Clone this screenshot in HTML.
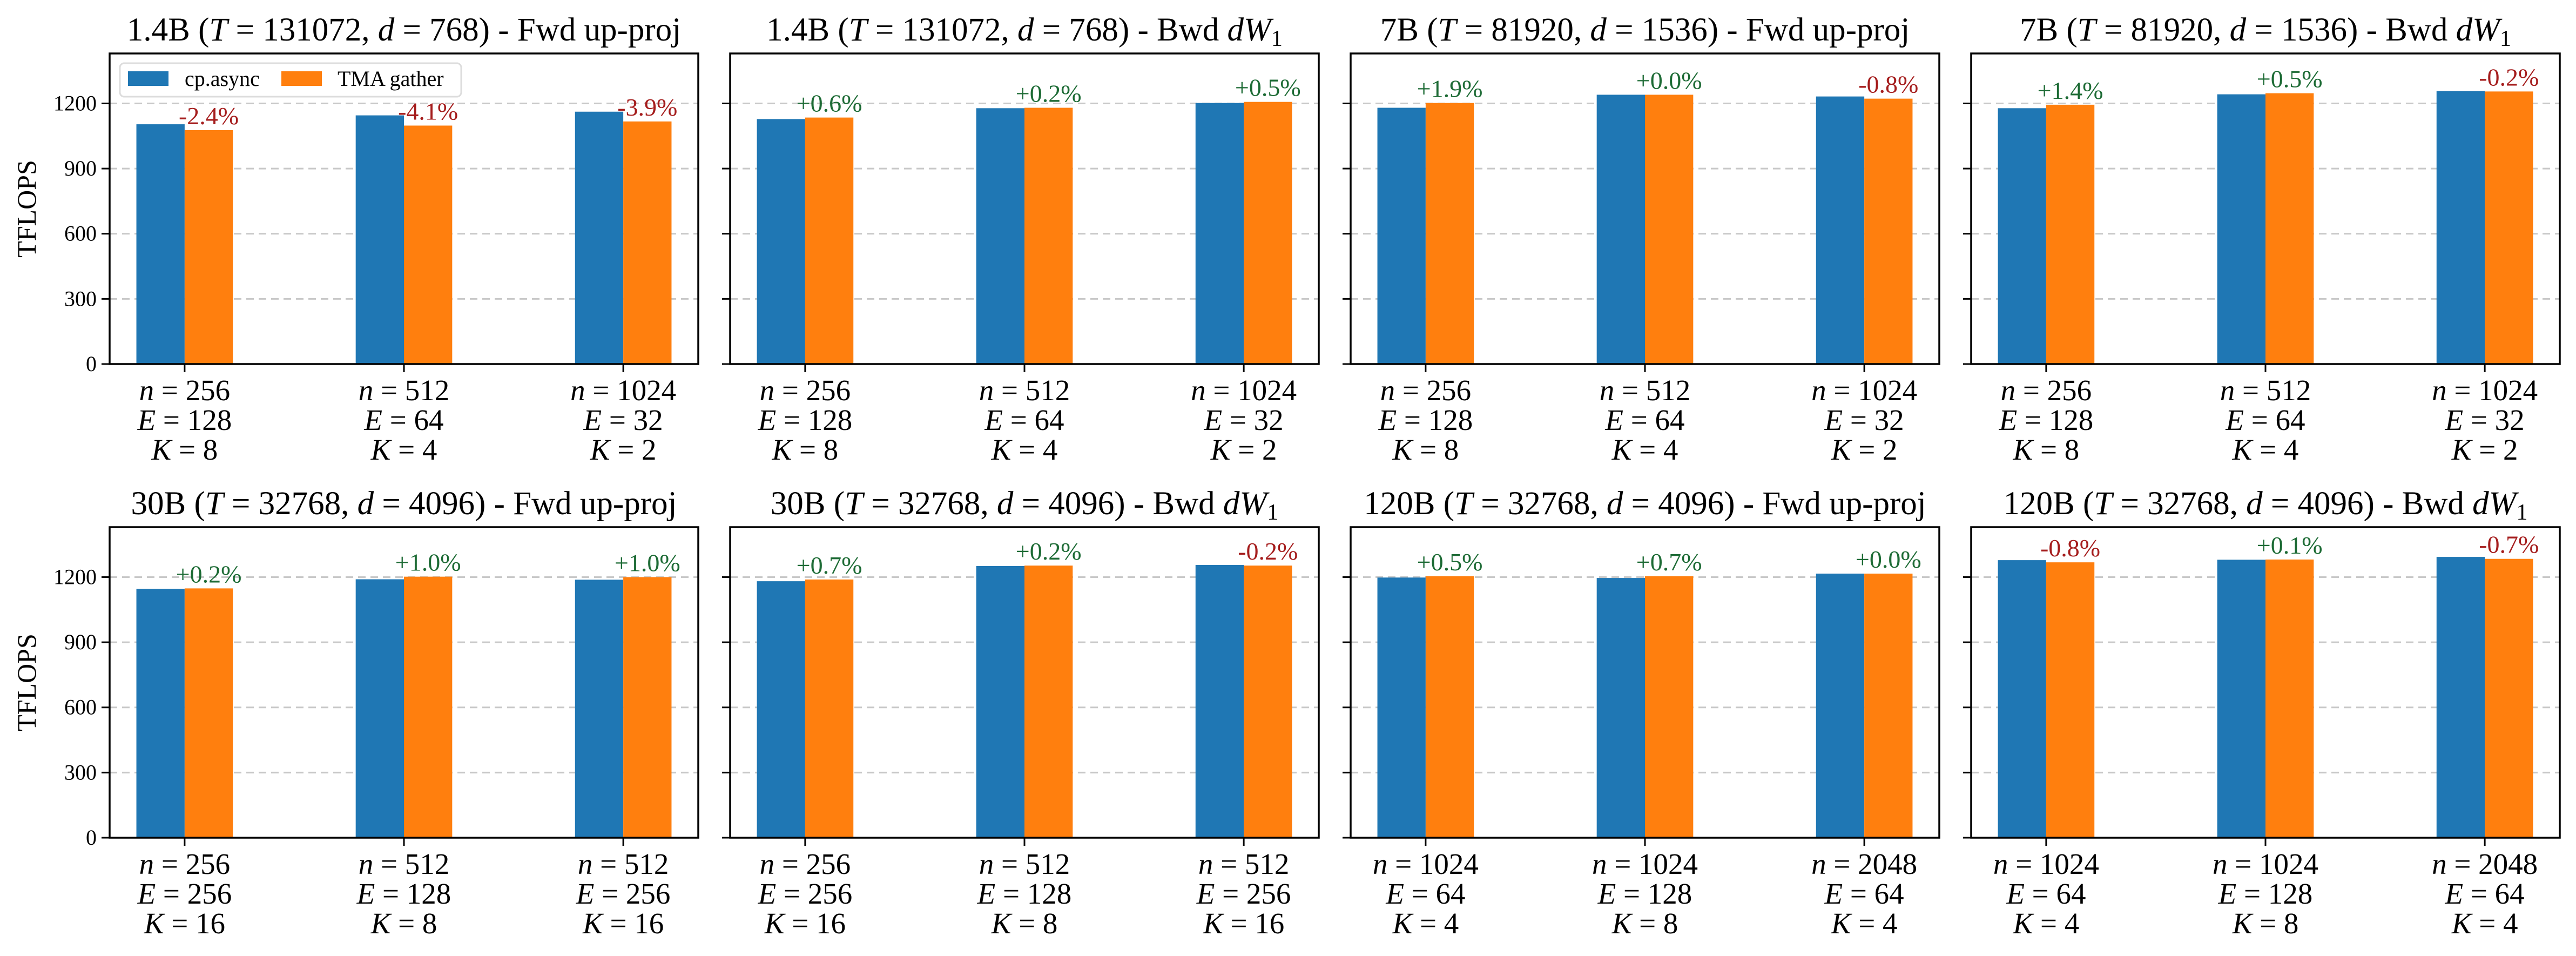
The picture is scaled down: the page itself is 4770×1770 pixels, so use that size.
<!DOCTYPE html>
<html><head><meta charset="utf-8">
<style>
html,body{margin:0;padding:0;background:#fff;}
svg{display:block;}
text{font-family:"Liberation Serif","DejaVu Serif",serif;}
</style></head>
<body>
<svg id="chart" xmlns="http://www.w3.org/2000/svg" width="4770" height="1770" viewBox="0 0 4770 1770"></svg>
<script>
// ---- data ----
const panelModels = ["1.4B","1.4B","7B","7B","30B","30B","120B","120B"];
const panelT = ["131072","131072","81920","81920","32768","32768","32768","32768"];
const panelD = ["768","768","1536","1536","4096","4096","4096","4096"];
const panelKind = ["fwd","bwd","fwd","bwd","fwd","bwd","fwd","bwd"];
const catN = [["256","512","1024"],["256","512","1024"],["256","512","1024"],["256","512","1024"],
              ["256","512","512"],["256","512","512"],["1024","1024","2048"],["1024","1024","2048"]];
const catE = [["128","64","32"],["128","64","32"],["128","64","32"],["128","64","32"],
              ["256","128","256"],["256","128","256"],["64","128","64"],["64","128","64"]];
const catK = [["8","4","2"],["8","4","2"],["8","4","2"],["8","4","2"],
              ["16","8","16"],["16","8","16"],["4","8","4"],["4","8","4"]];
const cpAsync = [[1104,1145,1162],[1128,1178,1202],[1180,1240,1232],[1178,1242,1257],
                 [1146,1190,1188],[1181,1251,1256],[1198,1196,1216],[1278,1280,1293]];
const tmaGather = [[1077,1098,1117],[1135,1180,1207],[1202,1240,1222],[1194,1247,1255],
                   [1148,1202,1200],[1189,1253,1253],[1204,1204,1216],[1268,1281,1284]];
const pctLabels = [["-2.4%","-4.1%","-3.9%"],["+0.6%","+0.2%","+0.5%"],["+1.9%","+0.0%","-0.8%"],["+1.4%","+0.5%","-0.2%"],
                   ["+0.2%","+1.0%","+1.0%"],["+0.7%","+0.2%","-0.2%"],["+0.5%","+0.7%","+0.0%"],["-0.8%","+0.1%","-0.7%"]];
const yTicks = [0,300,600,900,1200];
const legendLabels = ["cp.async","TMA gather"];

// ---- layout ----
const NS="http://www.w3.org/2000/svg";
const svg=document.getElementById('chart');
const AX_W=1090, COL_PITCH=1149, AX_LEFT0=203, AX_TOP0=99, AX_H=575, ROW_PITCH=877;
const Y_MAX=1430, X_MIN=-0.342, X_MAX=2.342, BAR_W=0.22;
const BLUE="#1f77b4", ORANGE="#ff7f0e", GREEN="#1d6b35", RED="#a51d1d";

function mk(tag,attrs,parent){const e=document.createElementNS(NS,tag);for(const k in attrs)e.setAttribute(k,attrs[k]);(parent||svg).appendChild(e);return e;}
function tsp(parent,txt,italic){const s=document.createElementNS(NS,'tspan');s.textContent=txt;if(italic)s.setAttribute('font-style','italic');parent.appendChild(s);return s;}

for(let p=0;p<8;p++){
  const row=Math.floor(p/4), col=p%4;
  const L=AX_LEFT0+col*COL_PITCH, T=AX_TOP0+row*ROW_PITCH, B=T+AX_H;
  const xs=v=>L+(v-X_MIN)/(X_MAX-X_MIN)*AX_W;
  const ys=v=>B-v/Y_MAX*AX_H;
  const g=mk('g',{});
  
  

  // title
  const title=mk('text',{x:L+AX_W/2,y:T-24,'text-anchor':'middle','font-size':61,fill:'#000'},g);
  
  
  tsp(title,panelModels[p]+" (");tsp(title,"T",true);tsp(title," = "+panelT[p]+", ");tsp(title,"d",true);tsp(title," = "+panelD[p]+") - ");
  if(panelKind[p]==="fwd"){tsp(title,"Fwd up-proj");}
  else{tsp(title,"Bwd ");tsp(title,"dW",true);const s=tsp(title,"1");s.setAttribute('font-size',42);s.setAttribute('dy',10);}

  // grid
  yTicks.forEach(v=>{
    if(v>0){const gl=mk('line',{x1:L,x2:L+AX_W,y1:ys(v),y2:ys(v),stroke:'#c8c8c8','stroke-width':3,'stroke-dasharray':'14 9'},g);
      
      }
    const tk=mk('line',{x1:L-15,x2:L,y1:ys(v),y2:ys(v),stroke:'#000','stroke-width':3},g);
    
    
    if(col===0){const tl=mk('text',{x:L-24,y:ys(v)+13,'text-anchor':'end','font-size':40},g);tl.textContent=v;
      
      }
  });

  // bars
  for(let i=0;i<3;i++){
    const b1=mk('rect',{x:xs(i-BAR_W),y:ys(cpAsync[p][i]),width:xs(BAR_W)-xs(0),height:ys(0)-ys(cpAsync[p][i]),fill:BLUE},g);
    
    
    const b2=mk('rect',{x:xs(i),y:ys(tmaGather[p][i]),width:xs(BAR_W)-xs(0),height:ys(0)-ys(tmaGather[p][i]),fill:ORANGE},g);
    
    
    const lab=pctLabels[p][i];
    const at=mk('text',{x:xs(i+BAR_W/2),y:ys(tmaGather[p][i])-11,'text-anchor':'middle','font-size':46,fill:lab[0]==='-'?RED:GREEN},g);
    at.textContent=lab;
    
    
    // x tick & label
    const xt=mk('line',{x1:xs(i),x2:xs(i),y1:B,y2:B+15,stroke:'#000','stroke-width':3},g);
    
    
    const xl=mk('text',{x:xs(i),'text-anchor':'middle','font-size':55},g);
    
    
    [["n",catN[p][i],67],["E",catE[p][i],122],["K",catK[p][i],177]].forEach(([v,val,dy])=>{
      const line=document.createElementNS(NS,'tspan');line.setAttribute('x',xs(i));line.setAttribute('y',B+dy);xl.appendChild(line);
      tsp(line,v,true);tsp(line," = "+val);
    });
  }

  // frame
  const fr=mk('rect',{x:L,y:T,width:AX_W,height:AX_H,fill:'none',stroke:'#000','stroke-width':3.5},g);
  
  

  if(col===0){
    const yl=mk('text',{x:0,y:0,'text-anchor':'middle','font-size':50,transform:`translate(${66},${(T+B)/2}) rotate(-90)`},g);
    yl.textContent="TFLOPS";
    
    
  }
}

// legend (first panel)
const lg=mk('g',{});


mk('rect',{x:222,y:117,width:632,height:62,rx:8,fill:'#fff','fill-opacity':0.8,stroke:'#dcdcdc','stroke-width':3},lg);
const le1=mk('g',{},lg);


mk('rect',{x:237,y:132,width:75,height:27,fill:BLUE},le1);
const lt1=mk('text',{x:342,y:159,'font-size':40},le1);lt1.textContent=legendLabels[0];
const le2=mk('g',{},lg);


mk('rect',{x:521,y:132,width:75,height:27,fill:ORANGE},le2);
const lt2=mk('text',{x:625,y:159,'font-size':40},le2);lt2.textContent=legendLabels[1];
</script>
</body></html>
